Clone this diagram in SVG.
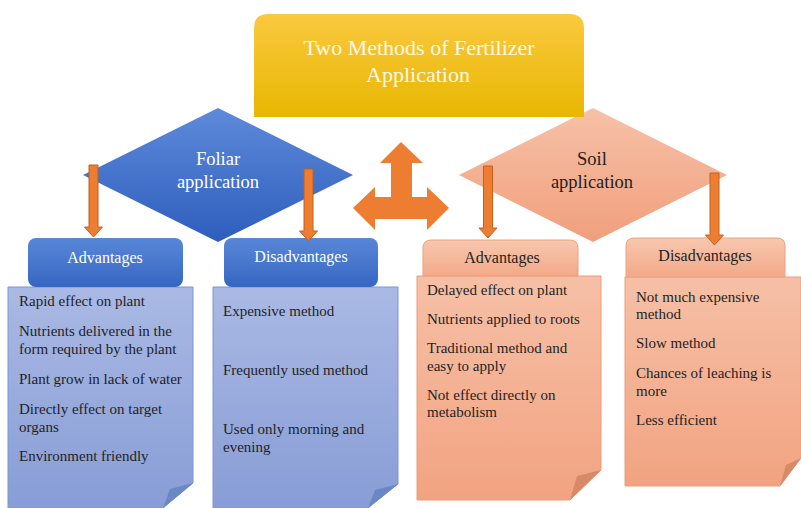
<svg xmlns="http://www.w3.org/2000/svg" xmlns:xlink="http://www.w3.org/1999/xlink" width="801" height="508" viewBox="0 0 801 508" font-family="'Liberation Serif', 'Times New Roman', serif">
  <defs>
    <linearGradient id="gTitle" x1="0" y1="0" x2="0" y2="1">
      <stop offset="0" stop-color="#FAC940"/>
      <stop offset="1" stop-color="#E8B700"/>
    </linearGradient>
    <linearGradient id="gBlueDia" x1="0" y1="0" x2="0" y2="1">
      <stop offset="0" stop-color="#5E8ADA"/>
      <stop offset="1" stop-color="#2E5EBD"/>
    </linearGradient>
    <linearGradient id="gBlueHead" x1="0" y1="0" x2="0" y2="1">
      <stop offset="0" stop-color="#5887D8"/>
      <stop offset="1" stop-color="#3766C2"/>
    </linearGradient>
    <linearGradient id="gBlueBody" x1="0" y1="0" x2="0" y2="1">
      <stop offset="0" stop-color="#AAB9E4"/>
      <stop offset="1" stop-color="#889DD6"/>
    </linearGradient>
    <linearGradient id="gSalDia" x1="0" y1="0" x2="0" y2="1">
      <stop offset="0" stop-color="#F6C1A8"/>
      <stop offset="1" stop-color="#F19F7C"/>
    </linearGradient>
    <linearGradient id="gSalHead" x1="0" y1="0" x2="0" y2="1">
      <stop offset="0" stop-color="#F8C7AF"/>
      <stop offset="1" stop-color="#F2A988"/>
    </linearGradient>
    <linearGradient id="gSalBody" x1="0" y1="0" x2="0" y2="1">
      <stop offset="0" stop-color="#F6C0A6"/>
      <stop offset="1" stop-color="#F2A381"/>
    </linearGradient>
    <!-- downward block arrow, 72px long, origin at top centre of the shaft -->
    <path id="downArrow" d="M-4.5,0 H4.5 V62 H9 L0,72 L-9,62 H-4.5 Z"/>
  </defs>
  <style>
    .title, .dia, .head, .item { font-family: "Liberation Serif", "Times New Roman", serif; }
    .title { font-size: 22px; fill: #FFF8E6; text-anchor: middle; }
    .dia { font-size: 18.5px; text-anchor: middle; }
    .head { font-size: 16px; text-anchor: middle; }
    .item { font-size: 15px; fill: #1F1F1F; }
    .white { fill: #FFFFFF; }
    .dark { fill: #1F1F1F; }
    .blueBody { fill: url(#gBlueBody); stroke: #7D95D3; stroke-width: 1; }
    .blueFold { fill: #6D86C4; }
    .salBody { fill: url(#gSalBody); stroke: #EE9C76; stroke-width: 1; }
    .salFold { fill: #D88A68; }
    .arrow { fill: #ED7D31; stroke: #C4601F; stroke-width: 1; }
  </style>

  <!-- method diamonds -->
  <g id="foliar">
    <polygon points="218,108 353,175 218,242 83,175" fill="url(#gBlueDia)"/>
    <text class="dia white" x="218" y="165">Foliar</text>
    <text class="dia white" x="218" y="188">application</text>
  </g>
  <g id="soil">
    <polygon points="593,108 727,175 593,242 459,175" fill="url(#gSalDia)"/>
    <text class="dia dark" x="592" y="165">Soil</text>
    <text class="dia dark" x="592" y="188">application</text>
  </g>

  <!-- title banner: rounded top, square bottom -->
  <g id="title">
    <path d="M254,117 V28 Q254,14 268,14 H569 Q584,14 584,28 V117 Z" fill="url(#gTitle)"/>
    <text class="title" x="419" y="55">Two Methods of Fertilizer</text>
    <text class="title" x="418" y="82">Application</text>
  </g>

  <!-- foliar advantages -->
  <g id="foliar-adv">
    <path class="blueBody" d="M8,287 H193 V483 L163,508 H8 Z"/>
    <polygon class="blueFold" points="193,483 170,489 163,508"/>
    <rect x="28" y="238" width="155" height="49" rx="8" fill="url(#gBlueHead)"/>
    <text class="head white" x="105" y="263">Advantages</text>
    <text class="item" x="19" y="306">Rapid effect on plant</text>
    <text class="item" x="19" y="336">Nutrients delivered in the</text>
    <text class="item" x="19" y="354">form required by the plant</text>
    <text class="item" x="19" y="384">Plant grow in lack of water</text>
    <text class="item" x="19" y="414">Directly effect on target</text>
    <text class="item" x="19" y="432">organs</text>
    <text class="item" x="19" y="461">Environment friendly</text>
  </g>

  <!-- foliar disadvantages -->
  <g id="foliar-dis">
    <path class="blueBody" d="M213,287 H398 V484 L368,508 H213 Z"/>
    <polygon class="blueFold" points="398,484 375,490 368,508"/>
    <rect x="224" y="238" width="154" height="49" rx="8" fill="url(#gBlueHead)"/>
    <text class="head white" x="301" y="262">Disadvantages</text>
    <text class="item" x="223" y="316">Expensive method</text>
    <text class="item" x="223" y="375">Frequently used method</text>
    <text class="item" x="223" y="434">Used only morning and</text>
    <text class="item" x="223" y="452">evening</text>
  </g>

  <!-- soil advantages -->
  <g id="soil-adv">
    <path class="salBody" d="M417,276 H601 V470 L570,500 H417 Z"/>
    <polygon class="salFold" points="601,470 577,476 570,500"/>
    <path d="M423,276 V248 Q423,240 431,240 H570 Q578,240 578,248 V276 Z" fill="url(#gSalHead)" stroke="#EFA07D" stroke-width="1"/>
    <text class="head dark" x="502" y="263">Advantages</text>
    <text class="item" x="427" y="295">Delayed effect on plant</text>
    <text class="item" x="427" y="324">Nutrients applied to roots</text>
    <text class="item" x="427" y="353">Traditional method and</text>
    <text class="item" x="427" y="371">easy to apply</text>
    <text class="item" x="427" y="400">Not effect directly on</text>
    <text class="item" x="427" y="417">metabolism</text>
  </g>

  <!-- soil disadvantages -->
  <g id="soil-dis">
    <path class="salBody" d="M625,277 H801 V458 L780,486 H625 Z"/>
    <polygon class="salFold" points="801,458 786,465 780,486"/>
    <path d="M626,277 V246 Q626,238 634,238 H777 Q785,238 785,246 V277 Z" fill="url(#gSalHead)" stroke="#EFA07D" stroke-width="1"/>
    <text class="head dark" x="705" y="261">Disadvantages</text>
    <text class="item" x="636" y="302">Not much expensive</text>
    <text class="item" x="636" y="319">method</text>
    <text class="item" x="636" y="348">Slow method</text>
    <text class="item" x="636" y="378">Chances of leaching is</text>
    <text class="item" x="636" y="396">more</text>
    <text class="item" x="636" y="425">Less efficient</text>
  </g>

  <!-- connectors -->
  <g id="connectors">
    <use xlink:href="#downArrow" class="arrow" transform="translate(93.5,165)"/>
    <use xlink:href="#downArrow" class="arrow" transform="translate(308.5,169)"/>
    <use xlink:href="#downArrow" class="arrow" transform="translate(488,166)"/>
    <use xlink:href="#downArrow" class="arrow" transform="translate(714.5,173)"/>
    <!-- three-way arrow between the two methods and the title -->
    <polygon fill="#ED7D31" points="401,142 423,163 412,163 412,197 427,197 427,187 449,208 427,230 427,219 375,219 375,230 353,208 375,187 375,197 391,197 391,163 380,163"/>
  </g>
</svg>
